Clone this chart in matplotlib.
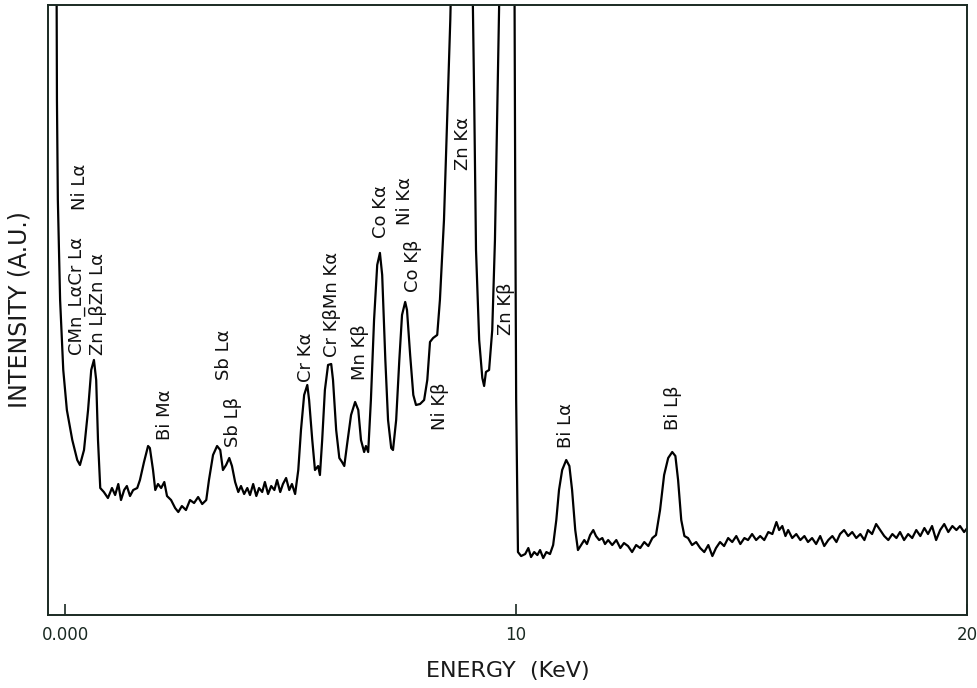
import numpy as np
import matplotlib
matplotlib.use('Agg')
import matplotlib.pyplot as plt

# Spectrum (energy in keV, intensity in arbitrary units)
energy = [-0.19, -0.18, -0.16, -0.11, -0.04, 0.04, 0.16, 0.27, 0.33, 0.42, 0.51, 0.58, 0.64, 0.69, 0.73,
          0.78, 0.86, 0.95, 1.04, 1.11, 1.18, 1.24, 1.31, 1.37, 1.44, 1.51, 1.60, 1.66, 1.75, 1.84,
          1.88, 1.95, 2.00, 2.06, 2.13, 2.20, 2.26, 2.35, 2.44, 2.51, 2.59, 2.68, 2.77, 2.86, 2.95,
          3.04, 3.13, 3.19, 3.28, 3.37, 3.44, 3.50, 3.57, 3.64, 3.70, 3.77, 3.84, 3.90, 3.97, 4.04,
          4.10, 4.17, 4.24, 4.30, 4.37, 4.43, 4.50, 4.57, 4.64, 4.70, 4.77, 4.83, 4.90, 4.97, 5.03,
          5.10, 5.17, 5.23, 5.30, 5.37, 5.41, 5.48, 5.54, 5.61, 5.65, 5.70, 5.76, 5.83, 5.90, 5.94,
          6.01, 6.08, 6.14, 6.19, 6.25, 6.34, 6.43, 6.50, 6.56, 6.63, 6.67, 6.72, 6.78, 6.85, 6.92,
          6.98, 7.03, 7.10, 7.16, 7.23, 7.27, 7.34, 7.41, 7.47, 7.54, 7.58, 7.65, 7.72, 7.78, 7.87,
          7.96, 8.03, 8.09, 8.16, 8.25, 8.31, 8.40, 8.47, 8.54, 8.58, 8.80, 9.02, 9.07, 9.11, 9.18,
          9.25, 9.29, 9.33, 9.40, 9.47, 9.53, 9.60, 9.65, 9.80, 9.96, 9.98, 10.00, 10.04, 10.11, 10.20,
          10.27, 10.33, 10.40, 10.47, 10.53, 10.60, 10.67, 10.75, 10.82, 10.89, 10.95, 11.02, 11.11, 11.18, 11.24,
          11.31, 11.37, 11.44, 11.51, 11.57, 11.64, 11.71, 11.77, 11.84, 11.91, 11.97, 12.04, 12.13, 12.22, 12.31,
          12.39, 12.48, 12.57, 12.66, 12.75, 12.84, 12.93, 13.02, 13.10, 13.19, 13.28, 13.37, 13.46, 13.53, 13.59,
          13.66, 13.73, 13.81, 13.90, 13.99, 14.08, 14.17, 14.26, 14.35, 14.43, 14.52, 14.61, 14.70, 14.79, 14.88,
          14.97, 15.06, 15.14, 15.23, 15.32, 15.41, 15.50, 15.59, 15.68, 15.77, 15.83, 15.90, 15.97, 16.03, 16.12,
          16.21, 16.30, 16.39, 16.47, 16.56, 16.65, 16.74, 16.83, 16.92, 17.01, 17.10, 17.18, 17.27, 17.36, 17.45,
          17.54, 17.63, 17.72, 17.80, 17.89, 17.98, 18.07, 18.16, 18.25, 18.34, 18.43, 18.51, 18.60, 18.69, 18.78,
          18.87, 18.96, 19.05, 19.13, 19.22, 19.31, 19.40, 19.49, 19.58, 19.67, 19.76, 19.84, 19.93, 20.00]

intensity = [660, 515, 415, 315, 245, 205, 175, 155, 150, 165, 205, 245, 255, 235, 175,
             127, 123, 117, 127, 120, 131, 115, 125, 129, 119, 125, 127, 135, 153, 169,
             167, 145, 125, 131, 127, 133, 119, 115, 107, 103, 109, 105, 115, 112, 118,
             111, 115, 135, 160, 169, 165, 145, 150, 157, 149, 133, 123, 129, 121, 127,
             120, 131, 119, 127, 123, 133, 121, 129, 125, 135, 123, 131, 137, 125, 131,
             121, 145, 185, 220, 230, 215, 175, 145, 149, 140, 175, 225, 250, 251, 235,
             185, 157, 153, 149, 170, 200, 213, 205, 175, 163, 169, 163, 215, 295, 350,
             362, 340, 255, 195, 167, 165, 195, 255, 300, 313, 305, 260, 220, 210, 211,
             215, 235, 273, 277, 280, 315, 395, 495, 595, 675, 900, 675, 515, 365, 275,
             237, 229, 243, 245, 285, 375, 555, 675, 900, 675, 415, 215, 63, 59, 61,
             67, 58, 63, 60, 65, 57, 63, 61, 70, 95, 125, 145, 155, 149, 125,
             85, 65, 70, 75, 71, 80, 85, 79, 75, 77, 71, 75, 70, 75, 67,
             72, 69, 63, 70, 67, 73, 69, 77, 80, 105, 140, 157, 163, 159, 135,
             95, 79, 77, 70, 73, 67, 63, 70, 59, 67, 73, 69, 77, 73, 79,
             71, 77, 75, 81, 75, 79, 75, 83, 81, 93, 85, 89, 79, 85, 77,
             81, 75, 79, 73, 77, 71, 79, 69, 75, 79, 73, 81, 85, 79, 83,
             77, 81, 75, 85, 81, 91, 85, 79, 75, 81, 77, 83, 75, 81, 77,
             85, 79, 87, 81, 89, 75, 85, 91, 83, 89, 85, 89, 83, 87]

# Peak labels: text, energy position, height of the label's start
peak_labels = ['CMn_LαCr Lα', 'Ni Lα', 'Zn LβZn Lα', 'Bi Mα', 'Sb Lβ', 'Sb Lα', 'Cr Kα',
               'Cr KβMn Kα', 'Mn Kβ', 'Co Kα', 'Co Kβ', 'Ni Kα', 'Ni Kβ', 'Zn Kα', 'Zn Kβ',
               'Bi Lα', 'Bi Lβ']
label_x = [0.26, 0.34, 0.74, 2.22, 3.72, 3.53, 5.34, 5.92, 6.54, 7.01, 7.72, 7.54, 8.31, 8.82, 9.78,
           11.11, 13.48]
label_y = [260, 405, 260, 175, 168, 235, 233, 258, 235, 377, 323, 390, 185, 445, 280, 167, 185]

xticks = [0, 10, 20]
xtick_labels = ['0.000', '10', '20']

fig = plt.figure(figsize=(9.78, 6.88), dpi=100)
ax = fig.add_axes([0.049, 0.106, 0.940, 0.887])

ax.plot(energy, intensity, color='black', linewidth=1.6)

for txt, x, y in zip(peak_labels, label_x, label_y):
    ax.text(x, y, txt, rotation=90, ha='center', va='bottom', fontsize=13, color='#111111')

ax.set_xlim(-0.38, 20)
ax.set_ylim(0, 610)
ax.set_xticks(xticks)
ax.set_xticklabels(xtick_labels, fontsize=12)
ax.set_yticks([])
ax.tick_params(axis='x', direction='in', length=8, width=1.2, pad=8, colors='#1a2a22')
for sp in ax.spines.values():
    sp.set_linewidth(1.4)
    sp.set_color('#1a2a22')

ax.set_xlabel('ENERGY  (KeV)', fontsize=16, labelpad=12, color='#1a1a1a')
ax.set_ylabel('INTENSITY (A.U.)', fontsize=17, labelpad=12, color='#1a1a1a')

plt.savefig('out.png', dpi=100)
